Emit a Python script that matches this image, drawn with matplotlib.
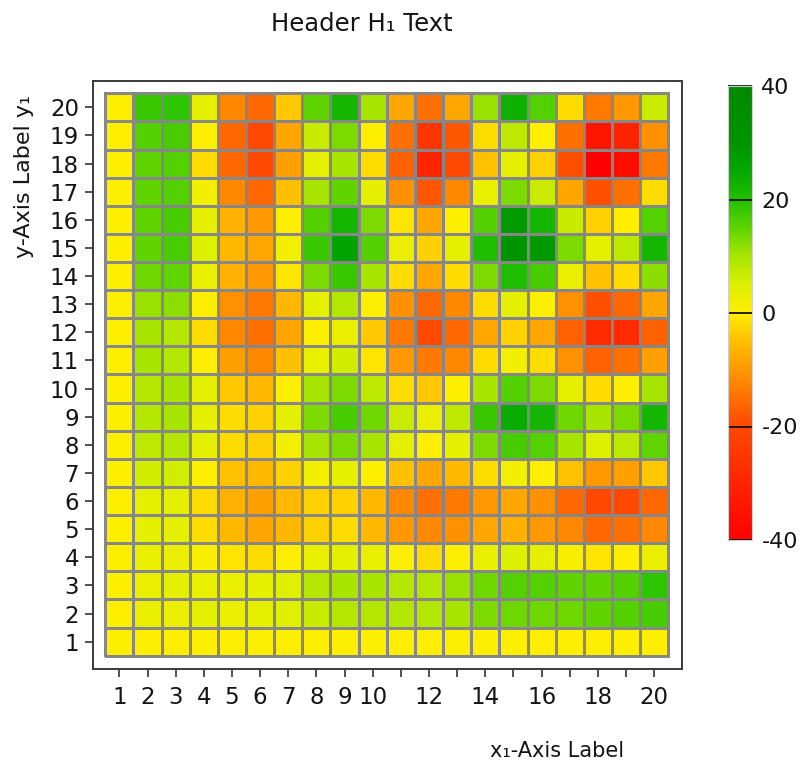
import numpy as np
import matplotlib
matplotlib.use("Agg")
import matplotlib.pyplot as plt
from matplotlib.colors import LinearSegmentedColormap, Normalize
from matplotlib.cm import ScalarMappable

# ---------------- data ----------------
x_categories = list(range(1, 21))
y_categories = list(range(1, 21))
x_tick_labels = ['1', '2', '3', '4', '5', '6', '7', '8', '9', '10',
                 '', '12', '', '14', '', '16', '', '18', '', '20']
y_tick_labels = [str(v) for v in y_categories]
colorbar_ticks = [-40, -20, 0, 20, 40]
colorbar_tick_labels = ['-40', '-20', '0', '20', '40']

title_text = "Header H\u2081 Text"
x_label_text = "x\u2081-Axis Label"
y_label_text = "y-Axis Label y\u2081"

# one list per y row (values for x = 1..20)
row_20 = [0, 18, 19, 4, -12, -16, -4, 15, 22, 10, -8, -15, -8, 11, 23, 16, -2, -14, -10, 7]
row_19 = [0, 16, 17, 0, -16, -20, -8, 7, 13, 0, -15, -25, -18, -2, 8, 0, -15, -34, -30, -11]
row_18 = [0, 15, 16, -2, -16, -20, -9, 4, 10, -2, -17, -30, -20, -5, 4, -3, -19, -40, -36, -14]
row_17 = [0, 15, 16, 2, -12, -16, -5, 10, 15, 4, -11, -18, -12, 3, 13, 7, -8, -19, -15, -2]
row_16 = [0, 15, 17, 4, -7, -10, 0, 16, 22, 13, -1, -8, 0, 16, 28, 22, 7, -3, 0, 16]
row_15 = [0, 15, 17, 5, -6, -8, 2, 18, 26, 16, 3, -3, 4, 20, 30, 29, 13, 4, 8, 22]
row_14 = [0, 14, 15, 3, -7, -10, -1, 13, 18, 10, -2, -8, -2, 13, 20, 17, 3, -5, -2, 12]
row_13 = [0, 11, 12, 0, -11, -14, -6, 4, 9, 0, -11, -16, -12, -2, 4, 0, -11, -19, -16, -8]
row_12 = [0, 10, 9, -2, -12, -15, -8, 0, 3, -4, -14, -20, -16, -8, -3, -8, -17, -28, -28, -17]
row_11 = [0, 10, 9, 0, -9, -12, -5, 3, 6, -1, -10, -14, -12, -2, 2, -2, -11, -17, -15, -9]
row_10 = [0, 9, 10, 4, -4, -6, 0, 10, 13, 8, -2, -4, 0, 10, 16, 13, 4, -2, 0, 10]
row_09 = [0, 9, 10, 4, -2, -3, 4, 13, 17, 14, 7, 3, 8, 18, 24, 22, 14, 10, 13, 22]
row_08 = [0, 8, 9, 4, -2, -3, 2, 10, 13, 10, 4, 0, 4, 13, 17, 16, 10, 5, 8, 15]
row_07 = [0, 6, 6, 0, -5, -6, -3, 2, 4, 0, -5, -8, -6, -2, 2, 0, -5, -10, -9, -4]
row_06 = [0, 4, 4, -2, -7, -9, -6, -3, -3, -6, -12, -15, -14, -10, -8, -11, -16, -20, -20, -16]
row_05 = [0, 4, 4, -2, -6, -8, -6, -3, -2, -6, -10, -12, -11, -8, -7, -10, -12, -16, -15, -12]
row_04 = [0, 3, 3, 1, -1, -2, 0, 3, 4, 3, 0, -2, 0, 3, 5, 4, 1, -1, 0, 3]
row_03 = [0, 3, 4, 3, 3, 4, 5, 9, 10, 10, 9, 9, 11, 14, 16, 16, 15, 15, 16, 19]
row_02 = [0, 3, 3, 4, 3, 4, 5, 7, 9, 9, 9, 9, 10, 13, 14, 14, 14, 15, 16, 17]
row_01 = [0, 0, 0, 0, 0, 0, 0, 0, 0, 0, 0, 0, 0, 0, 0, 0, 0, 0, 0, 0]

Z = np.array([row_01, row_02, row_03, row_04, row_05, row_06, row_07, row_08,
              row_09, row_10, row_11, row_12, row_13, row_14, row_15, row_16,
              row_17, row_18, row_19, row_20], dtype=float)

# ---------------- colours ----------------
vmin, vmax = -40, 40
cmap_nodes = [(-40, '#FF0000'), (-20, '#FF4800'), (-10, '#FF9800'), (-5, '#FFBF00'),
              (0, '#FFEE00'), (5, '#DDF000'), (10, '#A8E400'), (15, '#60D400'),
              (20, '#20C000'), (25, '#04A800'), (30, '#009400'), (40, '#008A00')]
cmap = LinearSegmentedColormap.from_list(
    'rg', [((v - vmin) / (vmax - vmin), c) for v, c in cmap_nodes], N=512)
norm = Normalize(vmin=vmin, vmax=vmax)

plt.rcParams['font.family'] = ['DejaVu Sans']
plt.rcParams['axes.unicode_minus'] = False
text_color = '#141414'

W, H = 801, 764
fig = plt.figure(figsize=(W / 100, H / 100), dpi=100)

ax = fig.add_axes([93 / W, 1 - 669 / H, 589 / W, 588.3 / H])
xedges = np.arange(len(x_categories) + 1) + 0.5
yedges = np.arange(len(y_categories) + 1) + 0.5
ax.pcolormesh(xedges, yedges, Z, cmap=cmap, norm=norm,
              edgecolors='#878787', linewidth=1.8)
ax.set_xlim(0.063, 20.987)
ax.set_ylim(0.027, 20.948)

for s in ax.spines.values():
    s.set_color('#3a3a3a')
    s.set_linewidth(1.4)

ax.set_xticks(x_categories)
ax.set_xticklabels(x_tick_labels)
ax.set_yticks(y_categories)
ax.set_yticklabels(y_tick_labels)
ax.tick_params(axis='both', length=5.8, width=1.1, color='#222222',
               labelsize=16.5, labelcolor=text_color)
ax.tick_params(axis='x', pad=6.5)
ax.tick_params(axis='y', pad=4.3)

# colorbar
cax = fig.add_axes([727.7 / W, 1 - 540 / H, 24 / W, 454 / H])
cb = fig.colorbar(ScalarMappable(norm=norm, cmap=cmap), cax=cax, ticks=colorbar_ticks)
cb.set_ticklabels(colorbar_tick_labels)
cb.outline.set_edgecolor('#cfcfcf')
cb.outline.set_linewidth(0.8)
cax.tick_params(direction='in', length=17.3, width=1.3, color='#111111',
                labelsize=16, labelcolor=text_color, pad=7)

# texts
fig.text(362 / W, 1 - 24 / H, title_text, ha='center', va='center',
         fontsize=17.5, color=text_color)
fig.text(557 / W, 1 - 751 / H, x_label_text, ha='center', va='center',
         fontsize=15, color=text_color)
fig.text(24 / W, 1 - 177 / H, y_label_text, ha='center', va='center',
         rotation=90, fontsize=16, color=text_color)

fig.savefig('out.png', dpi=100)
